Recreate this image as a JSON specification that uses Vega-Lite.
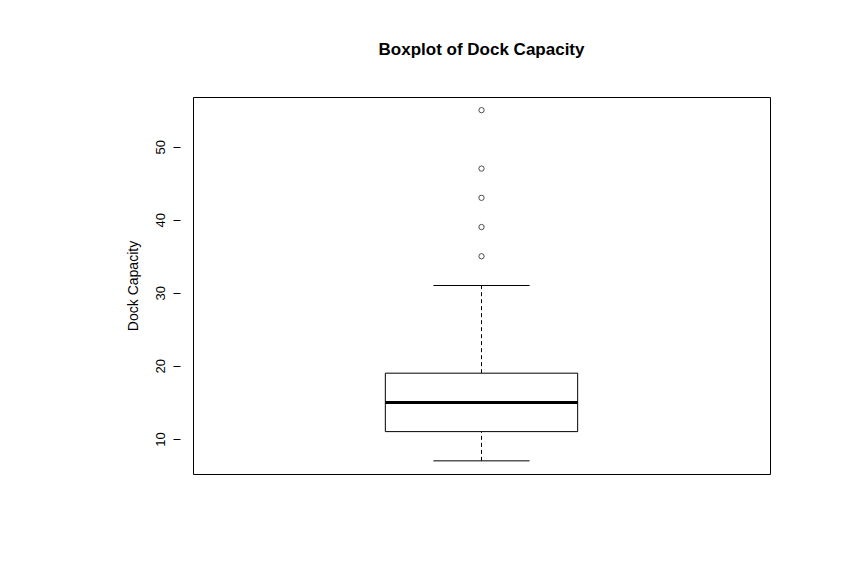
{
  "$schema": "https://vega.github.io/schema/vega-lite/v6.json",
  "width": 577,
  "height": 377,
  "autosize": {"type": "none"},
  "padding": {"left": 193, "top": 97, "right": 97, "bottom": 98},
  "title": {"text": "Boxplot of Dock Capacity", "font": "Liberation Sans", "fontSize": 17, "fontWeight": "bold", "offset": 38, "anchor": "middle"},
  "config": {
    "view": {"stroke": "black", "strokeWidth": 1},
    "font": "Liberation Sans"
  },
  "datasets": {
    "stats": [{"pos": 1, "left": 0.8, "right": 1.2, "capL": 0.9, "capR": 1.1, "lower": 7, "q1": 11, "median": 15, "q3": 19, "upper": 31}],
    "outliers": [{"pos": 1, "value": 35}, {"pos": 1, "value": 39}, {"pos": 1, "value": 43}, {"pos": 1, "value": 47}, {"pos": 1, "value": 55}]
  },
  "layer": [
    {
      "data": {"name": "stats"},
      "mark": {"type": "rule", "strokeDash": [4, 3], "color": "black"},
      "encoding": {
        "x": {"field": "pos", "type": "quantitative", "scale": {"domain": [0.46, 1.54]}, "axis": null},
        "y": {"field": "q3", "type": "quantitative", "scale": {"domain": [5.2, 56.8], "nice": false, "zero": false},
          "axis": {"title": "Dock Capacity", "values": [10, 20, 30, 40, 50], "grid": false, "domain": false, "labelAngle": -90, "labelAlign": "center", "labelBaseline": "bottom", "labelPadding": 6, "tickSize": 7, "tickColor": "black", "labelColor": "black", "labelFontSize": 13, "titleFontSize": 14, "titleFontWeight": "normal", "titleColor": "black", "titlePadding": 14, "offset": 13}},
        "y2": {"field": "upper"}
      }
    },
    {
      "data": {"name": "stats"},
      "mark": {"type": "rule", "strokeDash": [4, 3], "color": "black"},
      "encoding": {
        "x": {"field": "pos", "type": "quantitative"},
        "y": {"field": "lower", "type": "quantitative"},
        "y2": {"field": "q1"}
      }
    },
    {
      "data": {"name": "stats"},
      "mark": {"type": "rule", "color": "black"},
      "encoding": {
        "x": {"field": "capL", "type": "quantitative"},
        "x2": {"field": "capR"},
        "y": {"field": "upper", "type": "quantitative"}
      }
    },
    {
      "data": {"name": "stats"},
      "mark": {"type": "rule", "color": "black"},
      "encoding": {
        "x": {"field": "capL", "type": "quantitative"},
        "x2": {"field": "capR"},
        "y": {"field": "lower", "type": "quantitative"}
      }
    },
    {
      "data": {"name": "stats"},
      "mark": {"type": "rect", "fill": "white", "stroke": "black", "strokeWidth": 1},
      "encoding": {
        "x": {"field": "left", "type": "quantitative"},
        "x2": {"field": "right"},
        "y": {"field": "q1", "type": "quantitative"},
        "y2": {"field": "q3"}
      }
    },
    {
      "data": {"name": "stats"},
      "mark": {"type": "rule", "color": "black", "strokeWidth": 3},
      "encoding": {
        "x": {"field": "left", "type": "quantitative"},
        "x2": {"field": "right"},
        "y": {"field": "median", "type": "quantitative"}
      }
    },
    {
      "data": {"name": "outliers"},
      "mark": {"type": "point", "shape": "circle", "filled": false, "color": "black", "size": 28, "strokeWidth": 1},
      "encoding": {
        "x": {"field": "pos", "type": "quantitative"},
        "y": {"field": "value", "type": "quantitative"}
      }
    }
  ]
}
